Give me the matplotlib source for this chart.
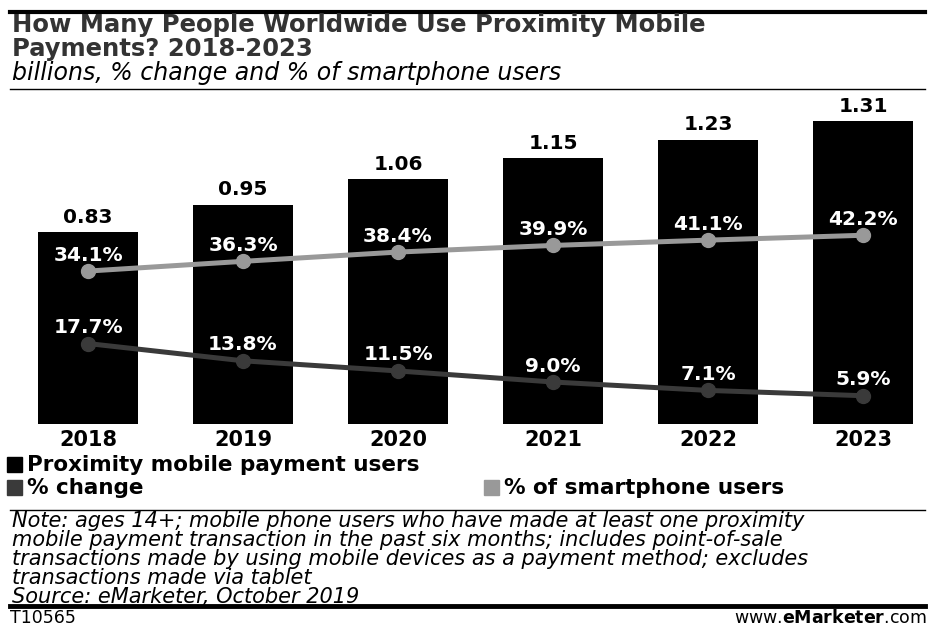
import matplotlib.pyplot as plt
from matplotlib.patches import Rectangle
from matplotlib.lines import Line2D

years = ['2018', '2019', '2020', '2021', '2022', '2023']
users = [0.83, 0.95, 1.06, 1.15, 1.23, 1.31]
pct_change = [17.7, 13.8, 11.5, 9.0, 7.1, 5.9]
pct_smartphone = [34.1, 36.3, 38.4, 39.9, 41.1, 42.2]

W, H = 935, 626
fig = plt.figure(figsize=(W / 100, H / 100), dpi=100)


def fy(y):
    return 1 - y / H


def fx(x):
    return x / W


# rules
fig.add_artist(Line2D([fx(10), fx(925)], [fy(12), fy(12)], color='black', lw=3))
fig.add_artist(Line2D([fx(10), fx(925)], [fy(89), fy(89)], color='black', lw=1))
fig.add_artist(Line2D([fx(10), fx(925)], [fy(510), fy(510)], color='black', lw=1))
fig.add_artist(Line2D([fx(10), fx(925)], [fy(606), fy(606)], color='black', lw=3.5))

# title
fig.text(fx(12), fy(37), 'How Many People Worldwide Use Proximity Mobile\nPayments? 2018-2023',
         fontsize=17.5, fontweight='bold', color='#333333', va='center', linespacing=1.03)
fig.text(fx(12), fy(73), 'billions, % change and % of smartphone users',
         fontsize=17, fontstyle='italic', color='black', va='center')

# main axes
left, right, top, bottom = 30, 922, 96, 424
ax = fig.add_axes([fx(left), fy(bottom), fx(right - left), (bottom - top) / H])
x = list(range(len(years)))
ax.bar(x, users, width=0.64, color='black')
ax.set_xlim(-(88 - left) / 155, 5 + (right - 863) / 155)
ax.set_ylim(0, (bottom - top) / 231)
for i, v in enumerate(users):
    ax.annotate(f'{v:.2f}', (i, v), xytext=(0, 4), textcoords='offset points',
                ha='center', va='bottom', fontsize=14.5, fontweight='bold')
ax.set_xticks(x)
ax.set_xticklabels(years, fontsize=15, fontweight='bold')
ax.tick_params(axis='x', length=0, pad=4)
ax.set_yticks([])
for s in ax.spines.values():
    s.set_visible(False)

ax2 = ax.twinx()
ax2.set_ylim(-0.5, (bottom - top) / 4.42 - 0.5)
ax2.plot(x, pct_smartphone, color='#999999', lw=3.6, marker='o', markersize=10)
ax2.plot(x, pct_change, color='#3a3a3a', lw=3.6, marker='o', markersize=10)
for i in x:
    ax2.annotate(f'{pct_smartphone[i]:.1f}%', (i, pct_smartphone[i]), xytext=(0, 11.5),
                 textcoords='offset points', ha='center', va='center',
                 fontsize=14.5, fontweight='bold', color='white')
    ax2.annotate(f'{pct_change[i]:.1f}%', (i, pct_change[i]), xytext=(0, 11.5),
                 textcoords='offset points', ha='center', va='center',
                 fontsize=14.5, fontweight='bold', color='white')
ax2.set_yticks([])
for s in ax2.spines.values():
    s.set_visible(False)

# legend
legend_items = [
    (7, 465, 'black', 'Proximity mobile payment users'),
    (7, 488, '#3a3a3a', '% change'),
    (484, 488, '#999999', '% of smartphone users'),
]
for lx, ly, c, label in legend_items:
    fig.add_artist(Rectangle((fx(lx), fy(ly + 7)), 15 / W, 15 / H, color=c,
                             transform=fig.transFigure))
    fig.text(fx(lx + 20), fy(ly), label, fontsize=15.5, fontweight='bold', va='center')

# note
note = ('Note: ages 14+; mobile phone users who have made at least one proximity\n'
        'mobile payment transaction in the past six months; includes point-of-sale\n'
        'transactions made by using mobile devices as a payment method; excludes\n'
        'transactions made via tablet\n'
        'Source: eMarketer, October 2019')
fig.text(fx(12), fy(559), note, fontsize=15, fontstyle='italic', va='center', linespacing=0.94)

fig.text(fx(10), fy(618), 'T10565', fontsize=12.5, va='center')
fig.text(fx(927), fy(618), 'www.$\\bf{eMarketer}$.com', fontsize=12.5, va='center', ha='right')

fig.savefig('out.png', dpi=100)
